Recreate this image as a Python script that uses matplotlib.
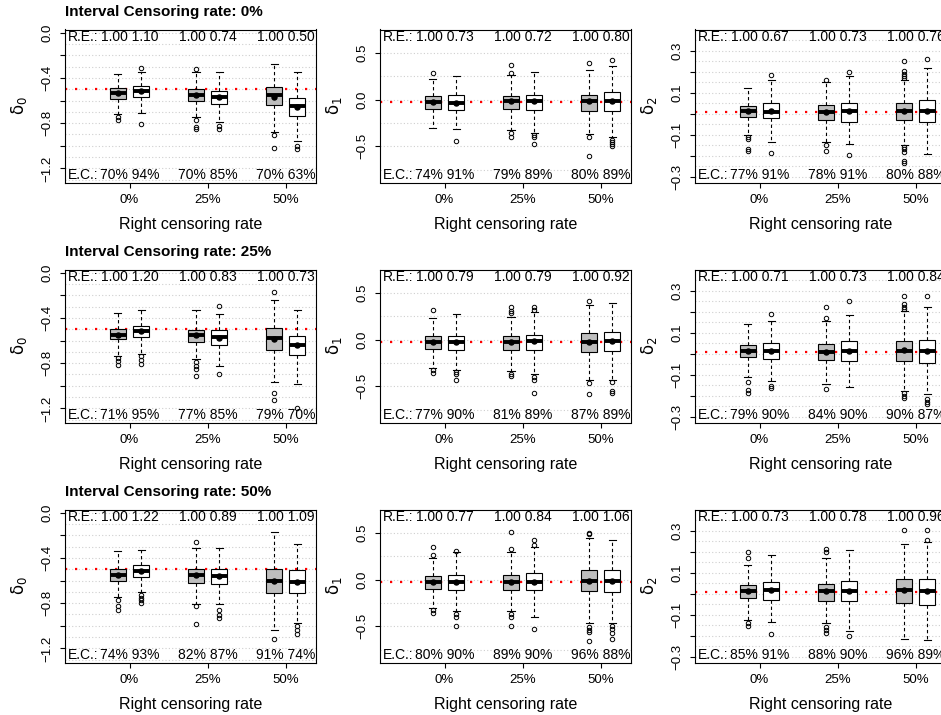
import numpy as np
import matplotlib
matplotlib.use("Agg")
import matplotlib.pyplot as plt

plt.rcParams['font.family'] = ['Liberation Sans', 'DejaVu Sans']

# ---- data ----
right_rates = ["0%", "25%", "50%"]
interval_rates = ["0%", "25%", "50%"]
param_labels = [r'$\mathrm{\delta}_0$', r'$\mathrm{\delta}_1$', r'$\mathrm{\delta}_2$']
true_delta = [-0.5, -0.028, 0.007]

# each row = interval censoring rate; 6 boxes per row:
# (gray, white) at 0%, 25%, 50% right censoring
d0_lo = [[-0.720, -0.712, -0.748, -0.794, -0.875, -0.955],
         [-0.733, -0.721, -0.765, -0.823, -0.965, -0.988],
         [-0.747, -0.698, -0.805, -0.808, -1.040, -0.974]]
d0_q1 = [[-0.587, -0.573, -0.608, -0.634, -0.640, -0.737],
         [-0.590, -0.573, -0.616, -0.640, -0.683, -0.727],
         [-0.602, -0.573, -0.619, -0.634, -0.712, -0.706]]
d0_med = [[-0.535, -0.520, -0.553, -0.572, -0.553, -0.652],
          [-0.547, -0.515, -0.552, -0.573, -0.581, -0.640],
          [-0.547, -0.515, -0.547, -0.561, -0.602, -0.610]]
d0_mean = [[-0.537, -0.520, -0.555, -0.572, -0.567, -0.655],
           [-0.547, -0.517, -0.552, -0.575, -0.586, -0.642],
           [-0.547, -0.517, -0.550, -0.563, -0.605, -0.612]]
d0_q3 = [[-0.491, -0.473, -0.499, -0.515, -0.478, -0.576],
         [-0.500, -0.471, -0.503, -0.503, -0.488, -0.558],
         [-0.500, -0.465, -0.494, -0.494, -0.494, -0.509]]
d0_hi = [[-0.366, -0.349, -0.351, -0.352, -0.281, -0.344],
         [-0.355, -0.334, -0.334, -0.363, -0.241, -0.328],
         [-0.343, -0.328, -0.314, -0.314, -0.174, -0.276]]
d0_out = [[[-0.747, -0.775], [-0.311, -0.805], [-0.323, -0.775, -0.830, -0.848],
           [-0.822, -0.850], [-0.905, -1.015], [-0.998, -1.030]],
          [[-0.756, -0.785, -0.814], [-0.741, -0.770, -0.808], [-0.794, -0.823, -0.852, -0.916],
           [-0.297, -0.892], [-0.174, -1.067, -1.125], [-1.192]],
          [[-0.776, -0.828, -0.863], [-0.727, -0.756, -0.776, -0.800], [-0.262, -0.828, -0.980],
           [-0.858, -0.901, -0.930], [-1.120], [-1.000, -1.040, -1.070]]]

d1_lo = [[-0.300, -0.318, -0.322, -0.357, -0.371, -0.399],
         [-0.300, -0.329, -0.336, -0.371, -0.428, -0.428],
         [-0.300, -0.339, -0.339, -0.399, -0.463, -0.463]]
d1_q1 = [[-0.099, -0.117, -0.106, -0.117, -0.124, -0.124],
         [-0.099, -0.110, -0.110, -0.117, -0.134, -0.127],
         [-0.099, -0.110, -0.110, -0.117, -0.127, -0.134]]
d1_med = [[-0.028, -0.035, -0.018, -0.011, -0.011, -0.011],
          [-0.028, -0.021, -0.021, -0.011, -0.021, -0.018],
          [-0.028, -0.021, -0.028, -0.021, -0.011, -0.011]]
d1_mean = [[-0.030, -0.035, -0.020, -0.015, -0.015, -0.015],
           [-0.030, -0.023, -0.023, -0.015, -0.021, -0.018],
           [-0.030, -0.023, -0.028, -0.021, -0.015, -0.015]]
d1_q3 = [[0.035, 0.049, 0.042, 0.053, 0.049, 0.078],
         [0.035, 0.042, 0.042, 0.053, 0.067, 0.078],
         [0.042, 0.049, 0.053, 0.071, 0.106, 0.106]]
d1_hi = [[0.219, 0.254, 0.265, 0.290, 0.314, 0.360],
         [0.230, 0.272, 0.237, 0.290, 0.367, 0.396],
         [0.226, 0.290, 0.290, 0.353, 0.449, 0.420]]
d1_out = [[[0.279], [-0.445], [0.371, 0.283, -0.357, -0.399], [-0.382, -0.399, -0.470],
           [0.389, -0.399, -0.604], [0.424, -0.428, -0.452, -0.477, -0.498]],
          [[0.314, -0.329, -0.357], [-0.346, -0.371, -0.428], [0.353, 0.300, 0.283, -0.364, -0.392],
           [0.343, 0.318, -0.399, -0.428, -0.569], [0.413, -0.463, -0.583], [-0.452, -0.548, -0.576]],
          [[0.353, 0.265, -0.329, -0.353], [0.307, -0.371, -0.399, -0.495],
           [0.512, 0.325, -0.371, -0.399, -0.495], [0.420, 0.367, -0.530],
           [0.502, 0.484, -0.505, -0.541, -0.565, -0.654], [-0.498, -0.534, -0.569, -0.636]]]

d2_lo = [[-0.100, -0.132, -0.132, -0.145, -0.148, -0.193],
         [-0.108, -0.129, -0.142, -0.158, -0.177, -0.190],
         [-0.124, -0.134, -0.137, -0.177, -0.214, -0.217]]
d2_q1 = [[-0.017, -0.020, -0.028, -0.038, -0.030, -0.041],
         [-0.017, -0.025, -0.030, -0.036, -0.036, -0.044],
         [-0.020, -0.030, -0.033, -0.036, -0.044, -0.052]]
d2_med = [[0.012, 0.010, 0.007, 0.012, 0.012, 0.012],
          [0.012, 0.012, 0.007, 0.015, 0.015, 0.012],
          [0.012, 0.018, 0.012, 0.012, 0.018, 0.012]]
d2_mean = [[0.012, 0.011, 0.007, 0.012, 0.012, 0.012],
           [0.012, 0.012, 0.007, 0.015, 0.016, 0.012],
           [0.012, 0.018, 0.012, 0.012, 0.018, 0.012]]
d2_q3 = [[0.039, 0.052, 0.044, 0.052, 0.050, 0.066],
         [0.044, 0.050, 0.047, 0.060, 0.060, 0.066],
         [0.044, 0.055, 0.047, 0.063, 0.071, 0.071]]
d2_hi = [[0.122, 0.159, 0.151, 0.178, 0.162, 0.218],
         [0.143, 0.156, 0.156, 0.186, 0.202, 0.220],
         [0.135, 0.183, 0.170, 0.210, 0.236, 0.247]]
d2_out = [[[-0.108, -0.118, -0.169, -0.177], [0.186, -0.188], [0.162, -0.148, -0.177],
           [0.199, -0.196], [0.250, 0.202, 0.191, 0.180, 0.170, -0.158, -0.169, -0.182, -0.225, -0.233],
           [0.258]],
          [[-0.134, -0.172, -0.185], [0.188, -0.153, -0.164], [0.223, 0.172, -0.169], [0.252],
           [0.276, 0.236, 0.223, 0.212, -0.188, -0.198, -0.209], [0.276, -0.214, -0.228, -0.236]],
          [[0.199, 0.170, -0.140, -0.153], [-0.193], [0.212, 0.199, -0.158, -0.172, -0.188],
           [-0.201], [0.303], [0.303, 0.255]]]

# relative efficiency and empirical coverage labels (per param, per row, 6 boxes)
re_vals = [[[1.00, 1.10, 1.00, 0.74, 1.00, 0.50],
            [1.00, 1.20, 1.00, 0.83, 1.00, 0.73],
            [1.00, 1.22, 1.00, 0.89, 1.00, 1.09]],
           [[1.00, 0.73, 1.00, 0.72, 1.00, 0.80],
            [1.00, 0.79, 1.00, 0.79, 1.00, 0.92],
            [1.00, 0.77, 1.00, 0.84, 1.00, 1.06]],
           [[1.00, 0.67, 1.00, 0.73, 1.00, 0.76],
            [1.00, 0.71, 1.00, 0.73, 1.00, 0.84],
            [1.00, 0.73, 1.00, 0.78, 1.00, 0.96]]]
ec_vals = [[[70, 94, 70, 85, 70, 63],
            [71, 95, 77, 85, 79, 70],
            [74, 93, 82, 87, 91, 74]],
           [[74, 91, 79, 89, 80, 89],
            [77, 90, 81, 89, 87, 89],
            [80, 90, 89, 90, 96, 88]],
           [[77, 91, 78, 91, 80, 88],
            [79, 90, 84, 90, 90, 87],
            [85, 91, 88, 90, 96, 89]]]

# ---- layout (pixels in a 941x715 figure) ----
W, H = 941, 715
col_left = [65, 380, 695]
row_top = [29.5, 269.5, 509.5]
ax_w, ax_h = 251, 153

ylims = [(-1.324, 0.027), (-0.887, 0.749), (-0.326, 0.40)]
yticks = [np.round(np.arange(0.0, -1.21, -0.2), 2), [0.5, 0.0, -0.5],
          np.round(np.arange(0.3, -0.31, -0.1), 2)]
ytick_labels = [['0.0', '', '\u22120.4', '', '\u22120.8', '', '\u22121.2'],
                ['0.5', '0.0', '\u22120.5'],
                ['0.3', '', '0.1', '', '\u22120.1', '', '\u22120.3']]
grids = [np.arange(0.0, -1.31, -0.1), np.arange(0.5, -0.76, -0.25), np.arange(0.35, -0.31, -0.05)]

all_lo = [d0_lo, d1_lo, d2_lo]
all_q1 = [d0_q1, d1_q1, d2_q1]
all_med = [d0_med, d1_med, d2_med]
all_mean = [d0_mean, d1_mean, d2_mean]
all_q3 = [d0_q3, d1_q3, d2_q3]
all_hi = [d0_hi, d1_hi, d2_hi]
all_out = [d0_out, d1_out, d2_out]

groups = np.array([1.0, 2.0, 3.0])
off = 0.148
positions = np.ravel([[g - off, g + off] for g in groups])
fills = ['#BEBEBE', 'white'] * 3

fig = plt.figure(figsize=(W / 100, H / 100), dpi=100)

for r in range(3):
    for c in range(3):
        ax = fig.add_axes([col_left[c] / W, 1 - (row_top[r] + ax_h) / H, ax_w / W, ax_h / H])

        stats = []
        for k in range(6):
            stats.append(dict(whislo=all_lo[c][r][k], q1=all_q1[c][r][k], med=all_med[c][r][k],
                              q3=all_q3[c][r][k], whishi=all_hi[c][r][k], mean=all_mean[c][r][k],
                              fliers=all_out[c][r][k]))

        for gy in grids[c]:
            ax.axhline(gy, color='#CFCFCF', linestyle=(0, (1, 2)), linewidth=0.8, zorder=0)
        ax.axhline(true_delta[c], color='red', linestyle=(0, (1, 3.5)), linewidth=1.6, zorder=1)

        bp = ax.bxp(stats, positions=positions, widths=0.205, patch_artist=True, showmeans=True,
                    capwidths=0.09, manage_ticks=False,
                    boxprops=dict(edgecolor='black', linewidth=0.8),
                    medianprops=dict(color='black', linewidth=2.8, solid_capstyle='butt'),
                    whiskerprops=dict(color='black', linewidth=0.8, linestyle=(0, (3, 2.5))),
                    capprops=dict(color='black', linewidth=0.8),
                    flierprops=dict(marker='o', markersize=3.2, markerfacecolor='none',
                                    markeredgecolor='black', markeredgewidth=0.7),
                    meanprops=dict(marker='o', markersize=3.6, markerfacecolor='black',
                                   markeredgecolor='black'))
        for patch, fc in zip(bp['boxes'], fills):
            patch.set_facecolor(fc)
            patch.set_zorder(2)

        ax.set_xlim(0.173, 3.39)
        ax.set_ylim(*ylims[c])
        ax.set_xticks(groups)
        ax.set_xticklabels(right_rates, fontsize=9.5)
        ax.set_yticks(yticks[c])
        ax.set_yticklabels(ytick_labels[c], fontsize=9.5, rotation=90, va='center')
        ax.tick_params(axis='both', direction='out', length=3.6, width=0.8, color='black')
        ax.tick_params(axis='x', pad=5)
        ax.tick_params(axis='y', pad=5)
        for sp in ax.spines.values():
            sp.set_linewidth(0.8)
            sp.set_color('black')

        tr = ax.get_xaxis_transform()
        ax.text(0.012, 0.948, 'R.E.:', transform=ax.transAxes, ha='left', va='center', fontsize=10)
        ax.text(0.012, 0.046, 'E.C.:', transform=ax.transAxes, ha='left', va='center', fontsize=10)
        for j, g in enumerate(groups):
            re = re_vals[c][r]
            ec = ec_vals[c][r]
            ax.text(g, 0.948, f'{re[2 * j]:.2f} {re[2 * j + 1]:.2f}', transform=tr,
                    ha='center', va='center', fontsize=10)
            ax.text(g, 0.046, f'{ec[2 * j]}% {ec[2 * j + 1]}%', transform=tr,
                    ha='center', va='center', fontsize=10)

        ax.text(0.5, -42 / ax_h, 'Right censoring rate', transform=ax.transAxes,
                ha='center', va='center', fontsize=11.5)
        ax.text(-46 / ax_w, 0.5, param_labels[c], transform=ax.transAxes, rotation=90,
                ha='center', va='center', fontsize=12)
        if c == 0:
            ax.text(0.0, 1 + 17.5 / ax_h, f'Interval Censoring rate: {interval_rates[r]}',
                    transform=ax.transAxes, ha='left', va='center', fontsize=11,
                    fontweight='bold')

fig.savefig('out.png', dpi=100)
